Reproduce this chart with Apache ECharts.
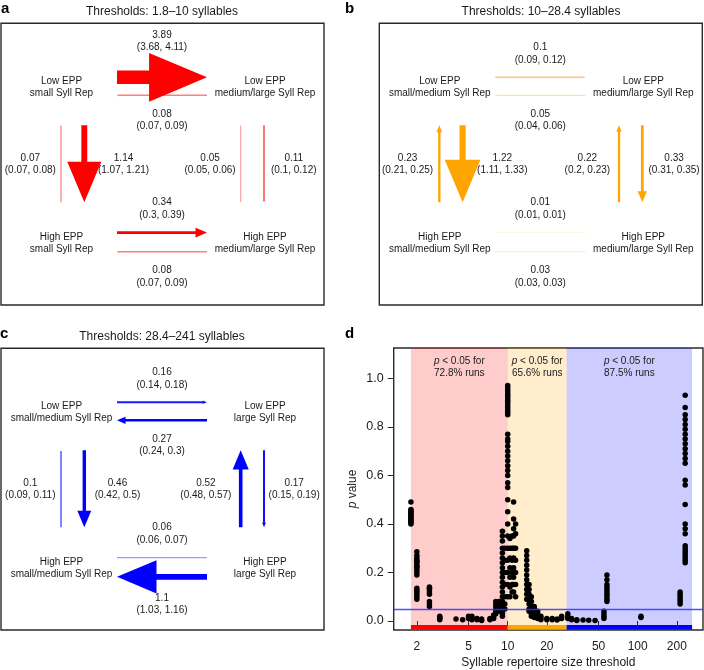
<!DOCTYPE html>
<html><head><meta charset="utf-8">
<script src="https://cdn.jsdelivr.net/npm/echarts@6/dist/echarts.min.js"></script>
<style>html,body{margin:0;padding:0;background:#fff}#c{width:704px;height:670px}</style>
</head><body><div id="c"></div><script>
// ---------- DATA ----------
const panelLetters = ['a', 'b', 'c', 'd'];
const panelTitles = ['Thresholds: 1.8\u201310 syllables', 'Thresholds: 10\u201328.4 syllables', 'Thresholds: 28.4\u2013241 syllables'];
const nodeLabelsA = ['Low EPP\nsmall Syll Rep', 'Low EPP\nmedium/large Syll Rep', 'High EPP\nsmall Syll Rep', 'High EPP\nmedium/large Syll Rep'];
const nodeLabelsB = ['Low EPP\nsmall/medium Syll Rep', 'Low EPP\nmedium/large Syll Rep', 'High EPP\nsmall/medium Syll Rep', 'High EPP\nmedium/large Syll Rep'];
const nodeLabelsC = ['Low EPP\nsmall/medium Syll Rep', 'Low EPP\nlarge Syll Rep', 'High EPP\nsmall/medium Syll Rep', 'High EPP\nlarge Syll Rep'];
const transitions = ['LS>LL', 'LL>LS', 'LS>HS', 'HS>LS', 'LL>HL', 'HL>LL', 'HS>HL', 'HL>HS'];
const ratesA = [3.89, 0.08, 1.14, 0.07, 0.11, 0.05, 0.34, 0.08];
const lowerA = [3.68, 0.07, 1.07, 0.07, 0.1, 0.05, 0.3, 0.07];
const upperA = [4.11, 0.09, 1.21, 0.08, 0.12, 0.06, 0.39, 0.09];
const ratesB = [0.1, 0.05, 1.22, 0.23, 0.33, 0.22, 0.01, 0.03];
const lowerB = [0.09, 0.04, 1.11, 0.21, 0.31, 0.2, 0.01, 0.03];
const upperB = [0.12, 0.06, 1.33, 0.25, 0.35, 0.23, 0.01, 0.03];
const ratesC = [0.16, 0.27, 0.46, 0.1, 0.17, 0.52, 0.06, 1.1];
const lowerC = [0.14, 0.24, 0.42, 0.09, 0.15, 0.48, 0.06, 1.03];
const upperC = [0.18, 0.3, 0.5, 0.11, 0.19, 0.57, 0.07, 1.16];

const bandStarts = [1.8, 10, 28.4];
const bandEnds = [10, 28.4, 262];
const bandTexts = ['72.8% runs', '65.6% runs', '87.5% runs'];
const xTicks = [2, 5, 10, 20, 50, 100, 200];
const yTicks = [0, 0.2, 0.4, 0.6, 0.8, 1.0];
const thresholdCols = [1.8, 2.0, 2.5, 3.0, 4.0, 4.5, 5.0, 5.3, 5.8, 6.3, 7.3, 7.8, 8.1, 8.6, 9.1, 9.5, 10.0, 10.4, 10.8, 11.1, 11.5, 14.0, 14.6, 15.2, 16.0, 17.0, 18.0, 20.0, 22.0, 24.0, 26.0, 29.0, 31.0, 34.0, 38.0, 42.0, 47.0, 55.0, 58.0, 106.0, 212.0, 232.0];
const pCols = [
  [0.49, 0.46, 0.455, 0.45, 0.445, 0.44, 0.435, 0.43, 0.425, 0.42, 0.415, 0.41, 0.405, 0.4],
  [0.285, 0.27, 0.26, 0.25, 0.245, 0.24, 0.23, 0.225, 0.22, 0.21, 0.2, 0.19, 0.135, 0.125, 0.12, 0.11, 0.1, 0.09],
  [0.14, 0.135, 0.13, 0.12, 0.11, 0.08, 0.07, 0.06],
  [0.02, 0.015, 0.01, 0.005],
  [0.008],
  [0.005],
  [0.01, 0.015, 0.02],
  [0.02, 0.015, 0.005],
  [0.01, 0.005],
  [0.008, 0.002],
  [0.005, 0.01],
  [0.01, 0.02, 0.025],
  [0.03, 0.04, 0.05, 0.06, 0.07, 0.08],
  [0.08, 0.07, 0.06, 0.05, 0.04],
  [0.37, 0.35, 0.33, 0.3, 0.28, 0.26, 0.24, 0.22, 0.2, 0.18, 0.16, 0.14, 0.12, 0.1, 0.08, 0.06, 0.04, 0.03, 0.02],
  [0.3, 0.25, 0.2, 0.15, 0.1, 0.07, 0.05],
  [0.97, 0.96, 0.95, 0.94, 0.93, 0.92, 0.91, 0.9, 0.89, 0.88, 0.87, 0.86, 0.85, 0.77, 0.75, 0.74, 0.72, 0.7, 0.68, 0.66, 0.64, 0.62, 0.6, 0.57, 0.55, 0.5, 0.45, 0.4, 0.35, 0.3, 0.25, 0.2, 0.15, 0.1],
  [0.34, 0.3, 0.26, 0.22, 0.18, 0.14, 0.1],
  [0.35, 0.3, 0.25, 0.2, 0.15, 0.12],
  [0.49, 0.42, 0.38, 0.35, 0.3, 0.26, 0.22, 0.18, 0.15, 0.12],
  [0.4, 0.36, 0.3, 0.25, 0.2, 0.15, 0.1],
  [0.29, 0.27, 0.25, 0.23, 0.21, 0.19, 0.17, 0.15, 0.13, 0.11, 0.09],
  [0.15, 0.13, 0.11, 0.09, 0.07, 0.05, 0.04],
  [0.1, 0.08, 0.06, 0.05, 0.04, 0.03, 0.02],
  [0.06, 0.05, 0.04, 0.03, 0.02, 0.015],
  [0.04, 0.03, 0.02, 0.01],
  [0.02, 0.01, 0.005],
  [0.01, 0.005],
  [0.005, 0.01],
  [0.008, 0.004],
  [0.01, 0.02],
  [0.03, 0.02, 0.01],
  [0.01, 0.005],
  [0.005, 0.002],
  [0.004],
  [0.003],
  [0.002],
  [0.01, 0.02, 0.03, 0.04],
  [0.19, 0.17, 0.15, 0.14, 0.13, 0.12, 0.11, 0.1, 0.09, 0.08],
  [0.02, 0.015],
  [0.12, 0.11, 0.1, 0.09, 0.08, 0.07],
  [0.93, 0.88, 0.85, 0.83, 0.81, 0.79, 0.77, 0.75, 0.73, 0.71, 0.69, 0.67, 0.65, 0.58, 0.56, 0.48, 0.4, 0.38, 0.36, 0.31, 0.3, 0.29, 0.28, 0.27, 0.26, 0.25, 0.24]
];

// ---------- LAYOUT / STYLE ----------
const FONT = '"Liberation Sans", Arial, sans-serif';
const panelColors = ['255,0,0', '255,165,0', '0,0,255'];
const boxW = 323, boxH = 281.7;
const boxes = [[1, 23.3], [379.3, 23.3], [1, 348.3]];
const nodePos = { LS: [60.5, 63.5], LL: [264, 63.5], HS: [60.5, 219.5], HL: [264, 219.5] };
const edgeGeom = {
  'LS>LL': { from: [116, 54], to: [206, 54], side: 'above' },
  'LL>LS': { from: [206, 72], to: [116, 72], side: 'below' },
  'HS>HL': { from: [116, 209.3], to: [206, 209.3], side: 'above' },
  'HL>HS': { from: [206, 228.5], to: [116, 228.5], side: 'below' },
  'HS>LS': { from: [60, 179], to: [60, 102], side: 'left' },
  'LS>HS': { from: [83.3, 102], to: [83.3, 179], side: 'right' },
  'HL>LL': { from: [239.7, 179], to: [239.7, 102], side: 'left' },
  'LL>HL': { from: [263, 102], to: [263, 179], side: 'right' }
};

function arrowStyle(v) {
  const L = 58 * (1 - Math.exp(-Math.pow(v, 1.4)));
  const w = 0.8 + 4.6 * Math.pow(v, 0.75);
  const H = Math.max(0.42 * L, w / 2 + 0.4);
  const a = Math.min(1, 0.1 + 5 * v);
  return { L, H, w, a };
}

const panelsData = [
  { rates: ratesA, lo: lowerA, hi: upperA, nodes: nodeLabelsA },
  { rates: ratesB, lo: lowerB, hi: upperB, nodes: nodeLabelsB },
  { rates: ratesC, lo: lowerC, hi: upperC, nodes: nodeLabelsC }
];

const grids = [], xAxes = [], yAxes = [], series = [];
const textStyleBase = { font: '10px ' + FONT, fill: '#1a1a1a', textAlign: 'center', textVerticalAlign: 'middle' };

panelsData.forEach((pd, pi) => {
  grids.push({ left: boxes[pi][0], top: boxes[pi][1], width: boxW, height: boxH, show: true, borderColor: '#2a2a2a', borderWidth: 1.4, backgroundColor: 'transparent' });
  xAxes.push({ gridIndex: pi, type: 'value', min: 0, max: boxW, show: false });
  yAxes.push({ gridIndex: pi, type: 'value', min: 0, max: boxH, inverse: true, show: false });
  const col = panelColors[pi];
  series.push({
    type: 'custom', xAxisIndex: pi, yAxisIndex: pi, silent: true, animation: false, clip: false,
    data: transitions.map((t, i) => [i, 0]),
    renderItem: function (params, api) {
      const i = api.value(0);
      const g = edgeGeom[transitions[i]];
      const v = pd.rates[i];
      const st = arrowStyle(v);
      const p0 = api.coord(g.from), p1 = api.coord(g.to);
      const dx = p1[0] - p0[0], dy = p1[1] - p0[1];
      const len = Math.hypot(dx, dy);
      const d = [dx / len, dy / len], n = [-d[1], d[0]];
      const L = Math.min(st.L, len * 0.9);
      const base = [p1[0] - d[0] * L, p1[1] - d[1] * L];
      const hw = st.w / 2;
      const pts = [
        [p0[0] + n[0] * hw, p0[1] + n[1] * hw],
        [base[0] + n[0] * hw, base[1] + n[1] * hw],
        [base[0] + n[0] * st.H, base[1] + n[1] * st.H],
        p1,
        [base[0] - n[0] * st.H, base[1] - n[1] * st.H],
        [base[0] - n[0] * hw, base[1] - n[1] * hw],
        [p0[0] - n[0] * hw, p0[1] - n[1] * hw]
      ];
      const children = [{ type: 'polygon', shape: { points: pts }, style: { fill: 'rgba(' + col + ',' + st.a + ')' } }];
      const line1 = String(v), line2 = '(' + pd.lo[i] + ', ' + pd.hi[i] + ')';
      let c1, c2;
      if (g.side === 'above') {
        const y2 = g.from[1] - Math.max(17.5, st.H + 5.5);
        c1 = [161, y2 - 12.5]; c2 = [161, y2];
      } else if (g.side === 'below') {
        const y1 = g.from[1] + Math.max(18.8, st.H + 4.5);
        c1 = [161, y1]; c2 = [161, y1 + 12.5];
      } else if (g.side === 'left') {
        const cx = g.from[0] - 30 - 0.6 * st.H;
        c1 = [cx, 134.5]; c2 = [cx, 147];
      } else {
        const cx = g.from[0] + 29 + 0.6 * st.H;
        c1 = [cx, 134.5]; c2 = [cx, 147];
      }
      const q1 = api.coord(c1), q2 = api.coord(c2);
      children.push({ type: 'text', x: q1[0], y: q1[1], style: Object.assign({ text: line1 }, textStyleBase) });
      children.push({ type: 'text', x: q2[0], y: q2[1], style: Object.assign({ text: line2 }, textStyleBase) });
      return { type: 'group', children };
    }
  });
  const nodeKeys = ['LS', 'LL', 'HS', 'HL'];
  series.push({
    type: 'custom', xAxisIndex: pi, yAxisIndex: pi, silent: true, animation: false, clip: false,
    data: nodeKeys.map((k, i) => [i, 0]),
    renderItem: function (params, api) {
      const i = api.value(0);
      const p = nodePos[nodeKeys[i]];
      const lines = pd.nodes[i].split('\n');
      const a1 = api.coord([p[0], p[1] - 6]), a2 = api.coord([p[0], p[1] + 6]);
      return { type: 'group', children: [
        { type: 'text', x: a1[0], y: a1[1], style: Object.assign({ text: lines[0] }, textStyleBase) },
        { type: 'text', x: a2[0], y: a2[1], style: Object.assign({ text: lines[1] }, textStyleBase) }
      ] };
    }
  });
});

// Panel d
grids.push({ left: 393.7, top: 348, width: 309.3, height: 282, show: true, borderColor: '#2a2a2a', borderWidth: 1.4, backgroundColor: 'transparent' });
xAxes.push({
  gridIndex: 3, type: 'log', logBase: 10, min: 1.327, max: 318,
  axisLine: { show: false }, splitLine: { show: false },
  axisTick: { show: true, inside: false, length: 6, customValues: xTicks, lineStyle: { color: '#2a2a2a' } },
  axisLabel: { show: true, margin: 11, customValues: xTicks, formatter: v => String(v), color: '#1a1a1a', fontSize: 12, fontFamily: FONT },
  name: 'Syllable repertoire size threshold', nameLocation: 'middle', nameGap: 27,
  nameTextStyle: { color: '#1a1a1a', fontSize: 12, fontFamily: FONT }
});
yAxes.push({
  gridIndex: 3, type: 'value', min: -0.037, max: 1.125,
  axisLine: { show: false }, splitLine: { show: false },
  axisTick: { show: true, inside: false, length: 6, customValues: yTicks, lineStyle: { color: '#2a2a2a' } },
  axisLabel: { show: true, margin: 10, customValues: yTicks, formatter: v => v.toFixed(1), color: '#1a1a1a', fontSize: 12.5, fontFamily: FONT },
  name: '{i|p} value', nameLocation: 'middle', nameGap: 35, nameRotate: 90,
  nameTextStyle: { color: '#1a1a1a', fontSize: 12, fontFamily: FONT, rich: { i: { fontStyle: 'italic', fontSize: 12, fontFamily: FONT, color: '#1a1a1a' } } }
});

const bandFill = ['rgba(255,0,0,0.2)', 'rgba(255,165,0,0.2)', 'rgba(0,0,255,0.2)'];
const barFill = ['#ff0000', '#ffa500', '#0000ff'];
const areas = [];
bandStarts.forEach((s, i) => {
  areas.push([{ xAxis: s, itemStyle: { color: bandFill[i] },
    label: { show: true, position: 'insideTop', distance: 7,
      formatter: '{i|p} < 0.05 for\n{n|' + bandTexts[i] + '}',
      rich: { i: { fontStyle: 'italic', fontSize: 10, lineHeight: 12, fontFamily: FONT, color: '#1a1a1a' }, n: { fontSize: 10, lineHeight: 12, fontFamily: FONT, color: '#1a1a1a' } },
      fontSize: 10, lineHeight: 12, fontFamily: FONT, color: '#1a1a1a' } }, { xAxis: bandEnds[i] }]);
});
bandStarts.forEach((s, i) => {
  areas.push([{ xAxis: s, yAxis: -0.035, itemStyle: { color: barFill[i] }, label: { show: false } }, { xAxis: bandEnds[i], yAxis: -0.016 }]);
});

const scatterData = [];
thresholdCols.forEach((t, i) => pCols[i].forEach(p => scatterData.push([t, p])));

series.push({
  type: 'scatter', xAxisIndex: 3, yAxisIndex: 3, data: scatterData, symbolSize: 5.5,
  itemStyle: { color: '#000', opacity: 1 }, silent: true, animation: false, z: 3,
  markArea: { silent: true, data: areas, itemStyle: { borderWidth: 0 } },
  markLine: { silent: true, symbol: 'none', animation: false, label: { show: false },
    lineStyle: { color: 'rgba(50,50,255,0.85)', width: 1.4, type: 'solid' },
    data: [{ yAxis: 0.05 }] }
});

// titles & letters
const graphics = [];
const titlePos = [[162, 12], [541, 12], [162, 337]];
panelTitles.forEach((t, i) => graphics.push({ type: 'text', x: titlePos[i][0], y: titlePos[i][1],
  style: { text: t, font: '12px ' + FONT, fill: '#1a1a1a', textAlign: 'center', textVerticalAlign: 'middle' } }));
const letterPos = [[1, 9], [345, 9], [0, 334], [345, 334]];
panelLetters.forEach((l, i) => graphics.push({ type: 'text', x: letterPos[i][0], y: letterPos[i][1],
  style: { text: l, font: 'bold 15px ' + FONT, fill: '#000', textAlign: 'left', textVerticalAlign: 'middle' } }));

const chart = echarts.init(document.getElementById('c'), null, { renderer: 'canvas' });
chart.setOption({
  animation: false,
  backgroundColor: '#fff',
  grid: grids, xAxis: xAxes, yAxis: yAxes, series: series, graphic: graphics
});
</script></body></html>
